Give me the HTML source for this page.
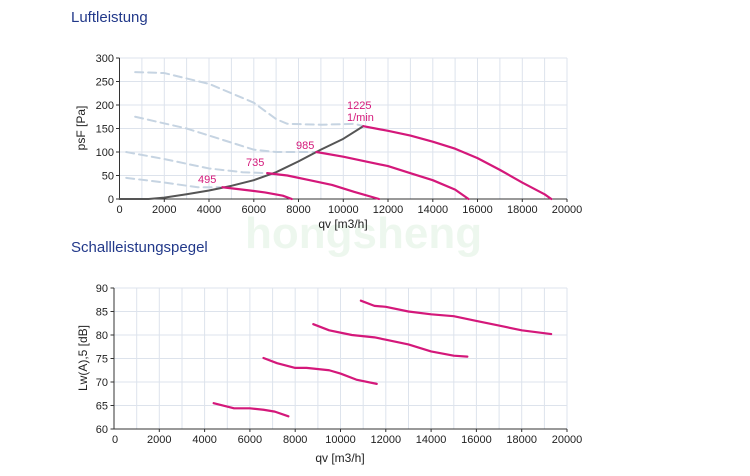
<!DOCTYPE html>
<html><head><meta charset="utf-8"><style>
body{margin:0;background:#fff;width:750px;height:471px;overflow:hidden}
text{font-family:"Liberation Sans",sans-serif}
</style></head><body>
<svg width="750" height="471" viewBox="0 0 750 471" xmlns="http://www.w3.org/2000/svg">
<text x="71" y="22" font-size="15" fill="#22398a">Luftleistung</text>
<text x="71" y="252" font-size="15" fill="#22398a">Schallleistungspegel</text>
<!-- watermark -->
<text x="245" y="248" font-size="44" font-weight="bold" fill="#2fa83a" opacity="0.08">hongsheng</text>
<!-- TOP CHART grid -->
<g stroke="#dde3ec" stroke-width="1">
<line x1="141.9" y1="58" x2="141.9" y2="199"/><line x1="164.3" y1="58" x2="164.3" y2="199"/><line x1="186.6" y1="58" x2="186.6" y2="199"/><line x1="209" y1="58" x2="209" y2="199"/><line x1="231.4" y1="58" x2="231.4" y2="199"/><line x1="253.8" y1="58" x2="253.8" y2="199"/><line x1="276.1" y1="58" x2="276.1" y2="199"/><line x1="298.5" y1="58" x2="298.5" y2="199"/><line x1="320.9" y1="58" x2="320.9" y2="199"/><line x1="343.3" y1="58" x2="343.3" y2="199"/><line x1="365.6" y1="58" x2="365.6" y2="199"/><line x1="388" y1="58" x2="388" y2="199"/><line x1="410.4" y1="58" x2="410.4" y2="199"/><line x1="432.8" y1="58" x2="432.8" y2="199"/><line x1="455.1" y1="58" x2="455.1" y2="199"/><line x1="477.5" y1="58" x2="477.5" y2="199"/><line x1="499.9" y1="58" x2="499.9" y2="199"/><line x1="522.3" y1="58" x2="522.3" y2="199"/><line x1="544.6" y1="58" x2="544.6" y2="199"/><line x1="567" y1="58" x2="567" y2="199"/>
<line x1="119.5" y1="58" x2="567" y2="58"/><line x1="119.5" y1="81.5" x2="567" y2="81.5"/><line x1="119.5" y1="105" x2="567" y2="105"/><line x1="119.5" y1="128.5" x2="567" y2="128.5"/><line x1="119.5" y1="152" x2="567" y2="152"/><line x1="119.5" y1="175.5" x2="567" y2="175.5"/>
</g>
<g stroke="#333" stroke-width="1"><line x1="119.5" y1="58" x2="119.5" y2="199"/><line x1="119.5" y1="199" x2="567" y2="199"/>
<line x1="116" y1="58" x2="119.5" y2="58"/><line x1="116" y1="81.5" x2="119.5" y2="81.5"/><line x1="116" y1="105" x2="119.5" y2="105"/><line x1="116" y1="128.5" x2="119.5" y2="128.5"/><line x1="116" y1="152" x2="119.5" y2="152"/><line x1="116" y1="175.5" x2="119.5" y2="175.5"/><line x1="116" y1="199" x2="119.5" y2="199"/>
<line x1="164.3" y1="199" x2="164.3" y2="202"/><line x1="209" y1="199" x2="209" y2="202"/><line x1="253.8" y1="199" x2="253.8" y2="202"/><line x1="298.5" y1="199" x2="298.5" y2="202"/><line x1="343.3" y1="199" x2="343.3" y2="202"/><line x1="388" y1="199" x2="388" y2="202"/><line x1="432.8" y1="199" x2="432.8" y2="202"/><line x1="477.5" y1="199" x2="477.5" y2="202"/><line x1="522.3" y1="199" x2="522.3" y2="202"/><line x1="567" y1="199" x2="567" y2="202"/></g>
<g font-size="11" fill="#222" text-anchor="end">
<text x="114" y="62">300</text><text x="114" y="85.5">250</text><text x="114" y="109">200</text><text x="114" y="132.5">150</text><text x="114" y="156">100</text><text x="114" y="179.5">50</text><text x="114" y="203">0</text></g>
<g font-size="11" fill="#222" text-anchor="middle">
<text x="119.5" y="213">0</text><text x="164.3" y="213">2000</text><text x="209" y="213">4000</text><text x="253.8" y="213">6000</text><text x="298.5" y="213">8000</text><text x="343.3" y="213">10000</text><text x="388" y="213">12000</text><text x="432.8" y="213">14000</text><text x="477.5" y="213">16000</text><text x="522.3" y="213">18000</text><text x="567" y="213">20000</text>
<text x="343" y="228" font-size="12">qv [m3/h]</text></g>
<text transform="translate(85,128) rotate(-90)" font-size="12" fill="#222" text-anchor="middle">psF [Pa]</text>
<g transform="translate(119.5,199) scale(0.022375,-0.47)" fill="none" stroke-linejoin="round" stroke-linecap="round">
<g stroke="#c6d4e2" stroke-width="2" stroke-dasharray="8 5">
<polyline vector-effect="non-scaling-stroke" points="700,270 2000,268 4000,245 5500,215 6000,205 7000,170 7500,160 9000,158 10500,160 10900,155"/>
<polyline vector-effect="non-scaling-stroke" points="700,175 3000,150 5000,120 6000,105 7000,100 8000,100 8800,100"/>
<polyline vector-effect="non-scaling-stroke" points="300,100 2000,85 4000,65 5500,57 6600,55"/>
<polyline vector-effect="non-scaling-stroke" points="300,45 2000,35 3500,25 4600,25"/>
</g>
<polyline vector-effect="non-scaling-stroke" stroke="#555" stroke-width="2" points="0,0 1300,0 2000,3 3000,10 4000,18 5000,28 6000,40 7000,57 8000,80 9000,105 10000,128 10900,155"/>
<g stroke="#d4187a" stroke-width="2.2">
<polyline vector-effect="non-scaling-stroke" points="10900,155 12000,145 13000,135 14000,122 15000,107 16000,87 17000,62 18000,35 19000,10 19300,0"/>
<polyline vector-effect="non-scaling-stroke" points="8800,100 10000,90 11000,80 12000,70 13000,55 14000,40 15000,20 15600,0"/>
<polyline vector-effect="non-scaling-stroke" points="6600,55 7500,50 8500,40 9500,30 10500,15 11600,0"/>
<polyline vector-effect="non-scaling-stroke" points="4600,25 5500,20 6500,14 7300,7 7700,0"/>
</g></g>
<g font-size="11" fill="#d4187a">
<text x="347" y="109">1225</text><text x="347" y="121">1/min</text>
<text x="296" y="149">985</text><text x="246" y="166">735</text><text x="198" y="183">495</text></g>

<!-- BOTTOM CHART -->
<g stroke="#dde3ec" stroke-width="1">
<line x1="136.7" y1="288" x2="136.7" y2="429"/><line x1="159.3" y1="288" x2="159.3" y2="429"/><line x1="182" y1="288" x2="182" y2="429"/><line x1="204.6" y1="288" x2="204.6" y2="429"/><line x1="227.3" y1="288" x2="227.3" y2="429"/><line x1="249.9" y1="288" x2="249.9" y2="429"/><line x1="272.6" y1="288" x2="272.6" y2="429"/><line x1="295.2" y1="288" x2="295.2" y2="429"/><line x1="317.9" y1="288" x2="317.9" y2="429"/><line x1="340.5" y1="288" x2="340.5" y2="429"/><line x1="363.2" y1="288" x2="363.2" y2="429"/><line x1="385.8" y1="288" x2="385.8" y2="429"/><line x1="408.5" y1="288" x2="408.5" y2="429"/><line x1="431.1" y1="288" x2="431.1" y2="429"/><line x1="453.8" y1="288" x2="453.8" y2="429"/><line x1="476.4" y1="288" x2="476.4" y2="429"/><line x1="499.1" y1="288" x2="499.1" y2="429"/><line x1="521.7" y1="288" x2="521.7" y2="429"/><line x1="544.4" y1="288" x2="544.4" y2="429"/><line x1="567" y1="288" x2="567" y2="429"/>
<line x1="114" y1="288" x2="567" y2="288"/><line x1="114" y1="311.5" x2="567" y2="311.5"/><line x1="114" y1="335" x2="567" y2="335"/><line x1="114" y1="358.5" x2="567" y2="358.5"/><line x1="114" y1="382" x2="567" y2="382"/><line x1="114" y1="405.5" x2="567" y2="405.5"/>
</g>
<g stroke="#333" stroke-width="1"><line x1="114" y1="288" x2="114" y2="429"/><line x1="114" y1="429" x2="567" y2="429"/>
<line x1="110.5" y1="288" x2="114" y2="288"/><line x1="110.5" y1="311.5" x2="114" y2="311.5"/><line x1="110.5" y1="335" x2="114" y2="335"/><line x1="110.5" y1="358.5" x2="114" y2="358.5"/><line x1="110.5" y1="382" x2="114" y2="382"/><line x1="110.5" y1="405.5" x2="114" y2="405.5"/><line x1="110.5" y1="429" x2="114" y2="429"/>
<line x1="159.3" y1="429" x2="159.3" y2="432"/><line x1="204.6" y1="429" x2="204.6" y2="432"/><line x1="249.9" y1="429" x2="249.9" y2="432"/><line x1="295.2" y1="429" x2="295.2" y2="432"/><line x1="340.5" y1="429" x2="340.5" y2="432"/><line x1="385.8" y1="429" x2="385.8" y2="432"/><line x1="431.1" y1="429" x2="431.1" y2="432"/><line x1="476.4" y1="429" x2="476.4" y2="432"/><line x1="521.7" y1="429" x2="521.7" y2="432"/><line x1="567" y1="429" x2="567" y2="432"/></g>
<g font-size="11" fill="#222" text-anchor="end">
<text x="108" y="292">90</text><text x="108" y="315.5">85</text><text x="108" y="339">80</text><text x="108" y="362.5">75</text><text x="108" y="386">70</text><text x="108" y="409.5">65</text><text x="108" y="433">60</text></g>
<g font-size="11" fill="#222" text-anchor="middle">
<text x="115" y="443">0</text><text x="159.3" y="443">2000</text><text x="204.6" y="443">4000</text><text x="249.9" y="443">6000</text><text x="295.2" y="443">8000</text><text x="340.5" y="443">10000</text><text x="385.8" y="443">12000</text><text x="431.1" y="443">14000</text><text x="476.4" y="443">16000</text><text x="521.7" y="443">18000</text><text x="567" y="443">20000</text>
<text x="340" y="462" font-size="12">qv [m3/h]</text></g>
<text transform="translate(87,358) rotate(-90)" font-size="12" fill="#222" text-anchor="middle">Lw(A),5 [dB]</text>
<g transform="translate(114,711) scale(0.02265,-4.7)" fill="none" stroke="#d4187a" stroke-width="2.2" stroke-linejoin="round" stroke-linecap="round">
<polyline vector-effect="non-scaling-stroke" points="10900,87.3 11500,86.2 12000,86 13000,85 14000,84.4 15000,84 16000,83 17000,82 18000,81 19300,80.2"/>
<polyline vector-effect="non-scaling-stroke" points="8800,82.3 9500,81 10500,80 11500,79.5 12000,79 13000,78 14000,76.5 15000,75.6 15600,75.4"/>
<polyline vector-effect="non-scaling-stroke" points="6600,75.1 7200,74 8000,73 8500,73 9500,72.5 10000,71.8 10700,70.5 11600,69.6"/>
<polyline vector-effect="non-scaling-stroke" points="4400,65.5 5300,64.4 6000,64.4 6600,64.1 7100,63.7 7700,62.7"/>
</g>
</svg>
</body></html>
